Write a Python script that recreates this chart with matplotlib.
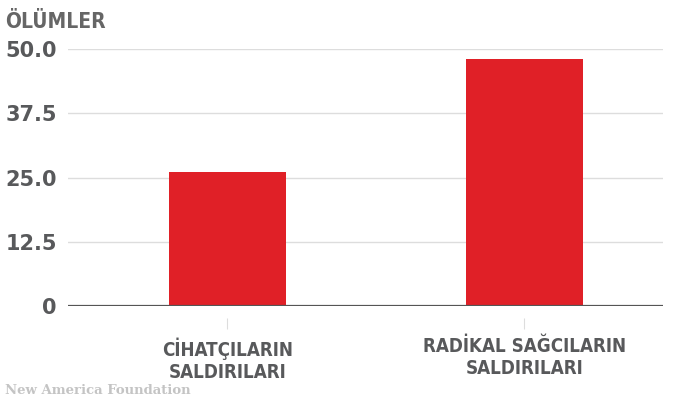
import matplotlib
matplotlib.use("Agg")
import matplotlib.pyplot as plt

# data
categories = ["CİHATÇILARIN\nSALDIRILARI", "RADİKAL SAĞCILARIN\nSALDIRILARI"]
deaths = [26, 48]
y_ticks = [0, 12.5, 25.0, 37.5, 50.0]
y_tick_labels = ["0", "12.5", "25.0", "37.5", "50.0"]

text_gray = "#58595b"
bar_red = "#e02027"

fig = plt.figure(figsize=(6.73, 4.0), dpi=100)
ax = fig.add_axes([0.101, 0.235, 0.884, 0.6425])

x = list(range(len(categories)))
ax.bar(x, deaths, width=0.394, color=bar_red, zorder=3)

ax.set_ylim(0, 50)
ax.set_xlim(-0.537, 1.466)

ax.set_yticks(y_ticks)
ax.set_yticklabels(y_tick_labels)
ax.tick_params(axis="y", length=0, pad=8, labelsize=15, labelcolor=text_gray)
for lab in ax.get_yticklabels():
    lab.set_fontweight("heavy")
    lab.set_family("DejaVu Sans")

ax.grid(axis="y", color="#dddddd", linewidth=1, zorder=0)
ax.axhline(0, color="#555555", linewidth=1.6, zorder=4)

for side in ["top", "right", "left"]:
    ax.spines[side].set_visible(False)
# offsets are in points (1 px = 0.72 pt at dpi 100)
ax.spines["bottom"].set_position(("outward", 8.5))
ax.spines["bottom"].set_visible(False)

ax.set_xticks(x)
ax.set_xticklabels(categories)
ax.tick_params(axis="x", length=8, width=0.8, color="#dddddd", pad=6,
               labelcolor=text_gray, labelsize=13.5)
for lab in ax.get_xticklabels():
    lab.set_fontweight("bold")
    lab.set_family("DejaVu Sans")
    lab.set_fontstretch("condensed")
    lab.set_linespacing(1.2)

fig.text(0.008, 0.945, "ÖLÜMLER", color="#666666", fontsize=15, fontweight="bold",
         fontstretch="condensed", family="DejaVu Sans", ha="left", va="center")
fig.text(0.008, 0.025, "New America Foundation", color="#c4c4c4", fontsize=9.5,
         fontweight="bold", family="DejaVu Serif", ha="left", va="center")

fig.savefig("out.png", dpi=100)
